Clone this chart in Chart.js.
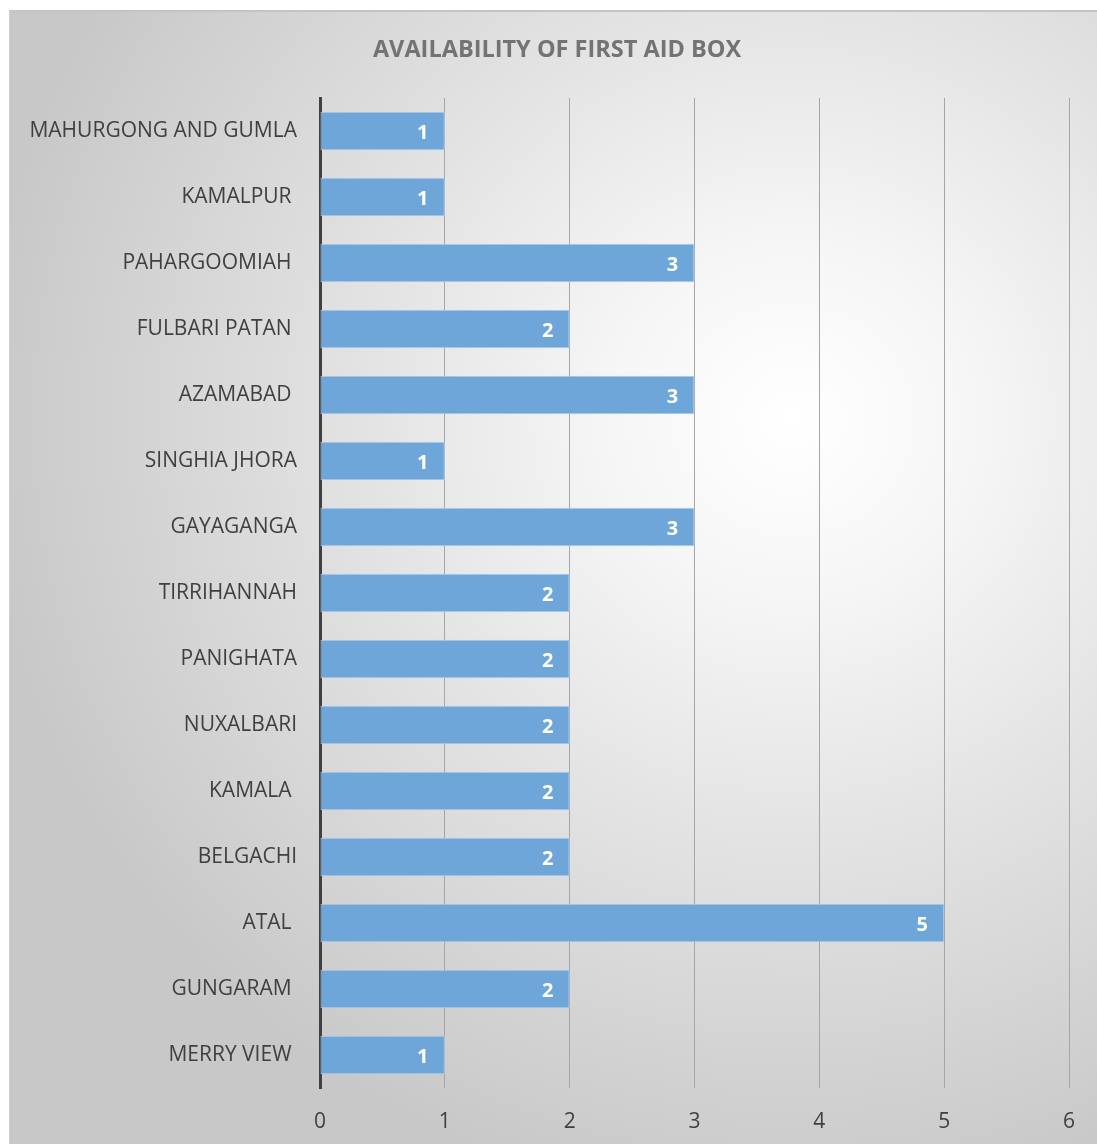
<!DOCTYPE html>
<html>
<head>
<meta charset="utf-8">
<script src="https://cdn.jsdelivr.net/npm/chart.js@4.4.1/dist/chart.umd.min.js"></script>
<style>
  html, body { margin: 0; padding: 0; background: #fff; }
  #box {
    position: absolute; left: 9px; top: 10px;
    width: 1088px; height: 1134px;
    box-sizing: border-box;
    border-top: 2px solid #c4c4c4; border-left: 1px solid #d0d0d0;
    background: radial-gradient(ellipse 75% 70% at 72% 36%, #ffffff 0%, #f6f6f6 22%, #e2e2e2 55%, #c8c8c8 100%);
  }
  #wrap { position: absolute; left: 0; top: 0; width: 1088px; height: 1134px; }
</style>
</head>
<body>
<div id="box"><div id="wrap"><canvas id="barChart"></canvas></div></div>
<script>
const CHART = document.getElementById('barChart');

var chartTitle = 'AVAILABILITY OF FIRST AID BOX';
var villages = ['MAHURGONG AND GUMLA', 'KAMALPUR ', 'PAHARGOOMIAH ', 'FULBARI PATAN ', 'AZAMABAD ',
  'SINGHIA JHORA', 'GAYAGANGA', 'TIRRIHANNAH', 'PANIGHATA', 'NUXALBARI',
  'KAMALA ', 'BELGACHI', 'ATAL ', 'GUNGARAM ', 'MERRY VIEW '];
var boxes = [1, 1, 3, 2, 3, 1, 3, 2, 2, 2, 2, 2, 5, 2, 1];
var xTicks = [0, 1, 2, 3, 4, 5, 6];

// title sits a bit right of the canvas centre, so draw it here
var titlePlugin = {
  id: 'titlePlugin',
  afterDraw: function(chart) {
    var ctx = chart.ctx;
    ctx.save();
    ctx.fillStyle = '#737373';
    ctx.font = 'bold 23.5px "Open Sans"';
    ctx.textAlign = 'center';
    ctx.textBaseline = 'middle';
    ctx.fillText(chartTitle, 547, 38);
    ctx.restore();
  }
};

// white numbers at the end of each bar
var barLabels = {
  id: 'barLabels',
  afterDatasetsDraw: function(chart) {
    var ctx = chart.ctx;
    var meta = chart.getDatasetMeta(0);
    ctx.save();
    ctx.fillStyle = '#ffffff';
    ctx.font = 'bold 20px "Open Sans"';
    ctx.textAlign = 'center';
    ctx.textBaseline = 'middle';
    meta.data.forEach(function(bar, i) {
      ctx.fillText(boxes[i], bar.x - 22, bar.y + 2);
    });
    ctx.restore();
  }
};

var barChart = new Chart(CHART, {
  type: 'bar',
  data: {
    labels: villages,
    datasets: [{
      data: boxes,
      backgroundColor: '#6fa6d9',
      borderColor: '#a9c9ea',
      borderWidth: 1,
      borderSkipped: false,
      categoryPercentage: 1,
      barPercentage: 0.58
    }]
  },
  plugins: [barLabels, titlePlugin],
  options: {
    indexAxis: 'y',
    responsive: true,
    maintainAspectRatio: false,
    animation: false,
    layout: { padding: { left: 0, right: 29, top: 86, bottom: 15 } },
    plugins: {
      legend: { display: false },
      tooltip: { enabled: false },
      title: { display: false }
    },
    scales: {
      x: {
        min: 0,
        max: 6,
        afterBuildTicks: function(scale) {
          scale.ticks = xTicks.map(function(v) { return { value: v }; });
        },
        afterFit: function(scale) { scale.height = 43; },
        grid: { color: '#a6a6a6', lineWidth: 1, drawTicks: false },
        border: { display: false },
        ticks: { color: '#404040', padding: 21, font: { family: 'Open Sans', size: 21 } }
      },
      y: {
        afterFit: function(scale) {
          scale.width = 310;
          scale.paddingTop = 0;
          scale.paddingBottom = 0;
        },
        grid: { display: false, drawTicks: false },
        border: { display: true, color: '#404040', width: 3 },
        ticks: { color: '#404040', padding: 23, font: { family: 'Open Sans', size: 21 } }
      }
    }
  }
});
</script>
</body>
</html>
